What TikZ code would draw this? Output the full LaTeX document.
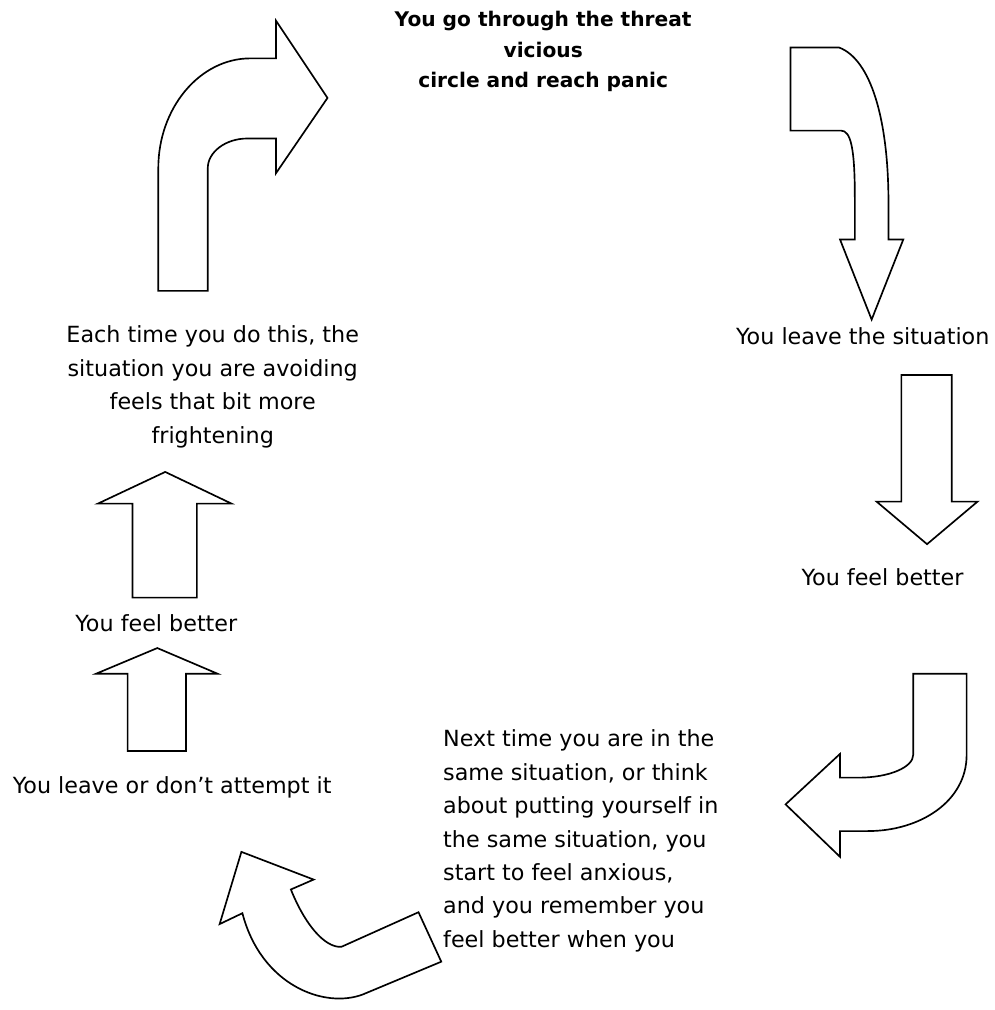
\documentclass[tikz,border=0pt]{standalone}
\usepackage{fontspec}
\setmainfont{DejaVu Sans}
\begin{document}
\begin{tikzpicture}[txt/.style={font=\fontsize{16pt}{24pt}\selectfont},
  bigarrow/.style={draw, line width=1.2pt, line join=miter, fill=white}]
\fill [color=white] (0, 0) rectangle (25.05, -25.25);

% texts
\node (threat) at (13.725, -1.3) [align=center,font=\fontsize{14.5pt}{22pt}\selectfont\bfseries] {You go through the threat\\vicious\\circle and reach panic};
\node (leave) at (21.8, -8.5) [txt] {You leave the situation};
\node (betterR) at (22.3, -14.575) [txt] {You feel better};
\node (next) at (11.075, -21.25) [anchor=west,align=left,txt] {Next time you are in the\\same situation, or think\\about putting yourself in\\the same situation, you\\start to feel anxious,\\and you remember you\\feel better when you};
\node (attempt) at (4.35, -19.9) [txt] {You leave or don’t attempt it};
\node (betterL) at (3.95, -15.75) [txt] {You feel better};
\node (eachtime) at (5.375, -9.775) [align=center,txt] {Each time you do this, the\\situation you are avoiding\\feels that bit more\\frightening};

% top left, bent up and right
\draw [bigarrow] (4, -7.35) -- (5.25, -7.35) -- (5.25, -4.25)
  .. controls (5.25, -3.84) and (5.7, -3.5) .. (6.25, -3.5) -- (6.975, -3.5)
  -- (6.975, -4.375) -- (8.275, -2.475) -- (6.975, -0.525) -- (6.975, -1.475) -- (6.325, -1.475)
  .. controls (5.05, -1.475) and (4, -2.725) .. (4, -4.25) -- cycle;
% top right, bent down
\draw [bigarrow] (19.975, -1.2) -- (19.975, -3.3) -- (21.25, -3.3)
  .. controls (21.5, -3.3) and (21.6, -3.75) .. (21.6, -5) -- (21.6, -6.05)
  -- (21.225, -6.05) -- (22.025, -8.075) -- (22.825, -6.05) -- (22.45, -6.05) -- (22.45, -5.125)
  .. controls (22.45, -3) and (22, -1.5) .. (21.2, -1.2) -- cycle;
% right, straight down
\draw [bigarrow] (22.775, -9.475) -- (24.05, -9.475) -- (24.05, -12.675) -- (24.7, -12.675)
  -- (23.425, -13.75) -- (22.15, -12.675) -- (22.775, -12.675) -- cycle;
% bottom right, bent down and left
\draw [bigarrow] (23.075, -17.025) -- (24.425, -17.025) -- (24.425, -19.075)
  .. controls (24.425, -20.25) and (23.25, -21) .. (21.925, -21) -- (21.225, -21)
  -- (21.225, -21.65) -- (19.85, -20.325) -- (21.225, -19.05) -- (21.225, -19.65) -- (21.675, -19.65)
  .. controls (22.5, -19.65) and (23.075, -19.375) .. (23.075, -19.075) -- cycle;
% bottom left, bent up
\draw [bigarrow] (6.1, -21.525) -- (7.925, -22.225) -- (7.35, -22.475)
  .. controls (7.7, -23.35) and (8.2, -23.95) .. (8.625, -23.925) -- (10.575, -23.05)
  -- (11.15, -24.3) -- (9.175, -25.125)
  .. controls (8.2, -25.5) and (6.6, -24.9) .. (6.125, -23.075) -- (5.55, -23.35) -- cycle;
% left, two straight up
\draw [bigarrow] (3.225, -18.975) -- (4.7, -18.975) -- (4.7, -17.025) -- (5.5, -17.025)
  -- (3.975, -16.375) -- (2.425, -17.025) -- (3.225, -17.025) -- cycle;
\draw [bigarrow] (3.35, -15.1) -- (4.975, -15.1) -- (4.975, -12.725) -- (5.85, -12.725)
  -- (4.175, -11.925) -- (2.475, -12.725) -- (3.35, -12.725) -- cycle;
\end{tikzpicture}
\end{document}
